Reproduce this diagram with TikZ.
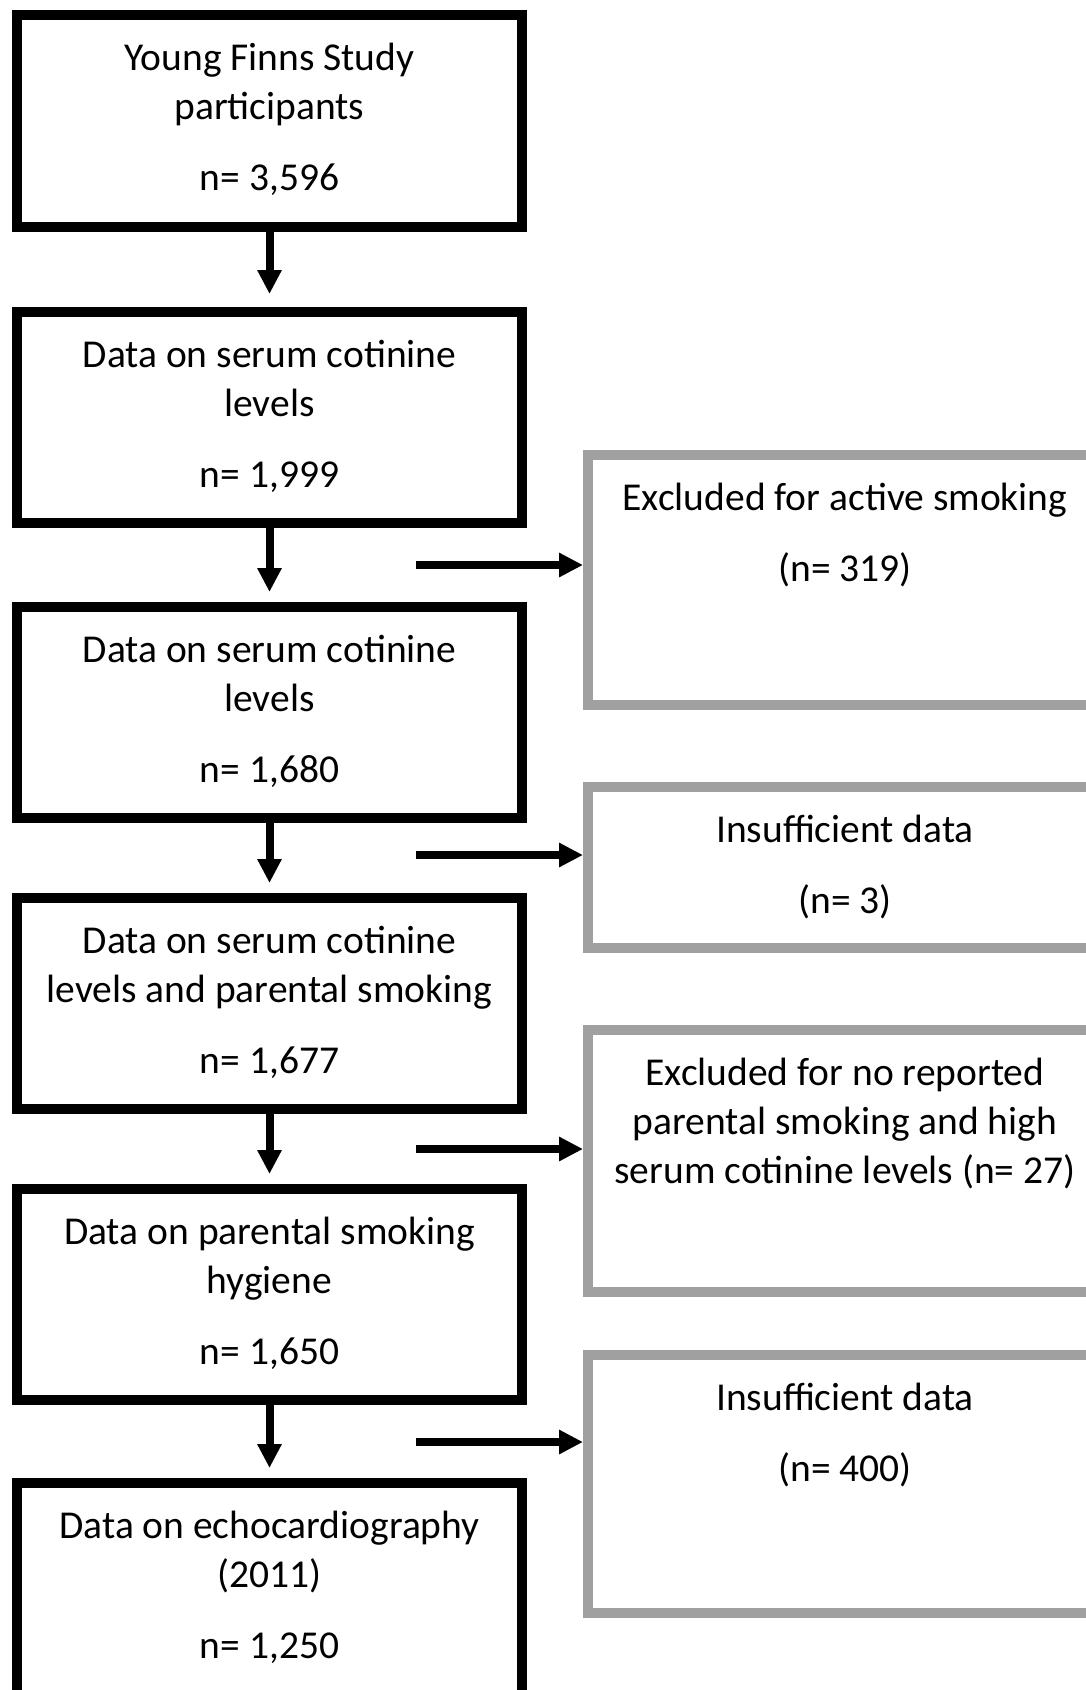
\documentclass[tikz,border=0pt]{standalone}
\usepackage{fontspec}
\setmainfont{Carlito}
\usetikzlibrary{arrows.meta}

\definecolor{exclgray}{RGB}{160,160,160}

% text of a box: fixed height, lines hung from the top
\newcommand{\boxtext}[3]{\parbox[c][#1][t]{#2}{\centering\fontsize{39.5}{49}\selectfont\rule{0pt}{55pt}#3}}

\tikzset{
  mainbox/.style={draw=black, line width=10pt, inner sep=0pt},
  exclbox/.style={draw=exclgray, line width=10pt, inner sep=0pt},
  flowarrow/.style={line width=8pt, -{Triangle[length=24pt,width=23pt]}},
}

\begin{document}
\begin{tikzpicture}[x=1pt,y=-1pt]
\useasboundingbox (0,0) rectangle (1085,1690);

% main column
\node[mainbox] (b1) at (269.5,121) {\boxtext{212pt}{505pt}{Young Finns Study\\participants\\[22pt]n= 3,596}};
\node[mainbox] (b2) at (269.5,417.5) {\boxtext{211pt}{505pt}{Data on serum cotinine\\levels\\[22pt]n= 1,999}};
\node[mainbox] (b3) at (269.5,712.5) {\boxtext{211pt}{505pt}{Data on serum cotinine\\levels\\[22pt]n= 1,680}};
\node[mainbox] (b4) at (269.5,1003.5) {\boxtext{211pt}{505pt}{Data on serum cotinine\\levels and parental smoking\\[22pt]n= 1,677}};
\node[mainbox] (b5) at (269.5,1294.5) {\boxtext{211pt}{505pt}{Data on parental smoking\\hygiene\\[22pt]n= 1,650}};
\node[mainbox] (b6) at (269.5,1598) {\boxtext{230pt}{505pt}{Data on echocardiography\\(2011)\\[22pt]n= 1,250}};

% exclusions
\node[exclbox] (e1) at (845,580) {\boxtext{250pt}{514pt}{Excluded for active smoking\\[22pt](n= 319)}};
\node[exclbox] (e2) at (845,867.5) {\boxtext{161pt}{514pt}{Insufficient data\\[22pt](n= 3)}};
\node[exclbox] (e3) at (845,1161) {\boxtext{262pt}{514pt}{Excluded for no reported\\parental smoking and high\\serum cotinine levels (n= 27)}};
\node[exclbox] (e4) at (845,1484) {\boxtext{258pt}{514pt}{Insufficient data\\[22pt](n= 400)}};

\draw[flowarrow, shorten >=13pt] (b1) -- (b2);
\draw[flowarrow, shorten >=10pt] (b2) -- (b3);
\draw[flowarrow, shorten >=10pt] (b3) -- (b4);
\draw[flowarrow, shorten >=10pt] (b4) -- (b5);
\draw[flowarrow, shorten >=10pt] (b5) -- (b6);

\coordinate (s1) at (416,565);
\coordinate (s2) at (416,855);
\coordinate (s3) at (416,1149);
\coordinate (s4) at (416,1442);
\draw[flowarrow] (s1) -- (s1 -| e1.west);
\draw[flowarrow] (s2) -- (s2 -| e2.west);
\draw[flowarrow] (s3) -- (s3 -| e3.west);
\draw[flowarrow] (s4) -- (s4 -| e4.west);
\end{tikzpicture}
\end{document}
